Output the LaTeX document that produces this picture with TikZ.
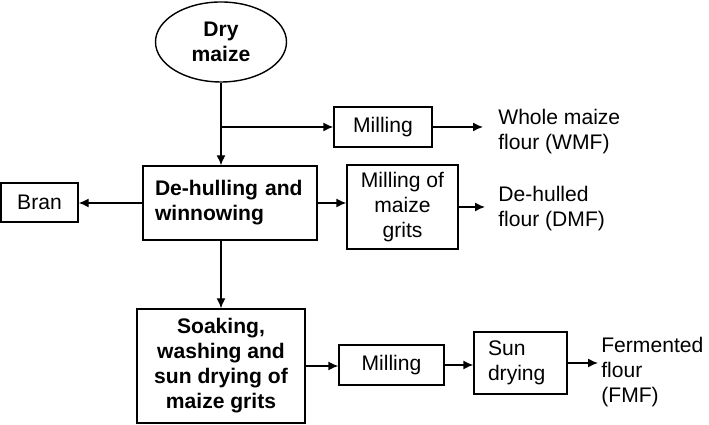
\documentclass[tikz,border=0pt]{standalone}
\usepackage{fontspec}
\setmainfont{Liberation Sans}
\usepackage{tikz}
\usetikzlibrary{shapes.geometric, arrows.meta, positioning, calc}

\begin{document}
\begin{tikzpicture}[
  txt/.style   = {font=\fontsize{12}{14.2}\selectfont},
  btxt/.style  = {font=\fontsize{12}{14.2}\selectfont\bfseries},
  box/.style   = {draw, line width=0.8pt, inner sep=0pt, align=center},
  stage/.style = {box, btxt},
  yield/.style = {txt, anchor=west, align=left, inner sep=0pt},
  flow/.style  = {-{Latex[length=2mm, width=1.8mm]}, line width=0.8pt},
]
\useasboundingbox (0,0) rectangle (14.18,8.5);

% ── Raw material ──────────────────────────────────────────────────────────────
\node[ellipse, draw, line width=0.8pt, btxt, align=center, inner sep=0pt,
      minimum width=2.62cm, minimum height=1.6cm] (dry) at (4.42,7.66) {Dry\\maize};

% ── Whole maize route ─────────────────────────────────────────────────────────
\node[box, txt, minimum width=1.96cm, minimum height=0.8cm] (mill1) at (7.66,5.96) {Milling};
\node[yield] (wmf) at (9.96,5.86) {Whole maize\\flour (WMF)};

% ── De-hulling ────────────────────────────────────────────────────────────────
\node[stage, align=left, text width=3.0cm, inner xsep=0.24cm,
      minimum height=1.48cm] (dehull) at (4.6,4.44) {De-hulling and\\winnowing};
\node[box, txt, minimum width=1.54cm, minimum height=0.78cm] (bran) at (0.79,4.45) {Bran};
\node[box, txt, minimum width=2.22cm, minimum height=1.68cm] (grits) at (8.05,4.36) {Milling of\\maize\\grits};
\node[yield] (dmf) at (9.96,4.32) {De-hulled\\flour (DMF)};

% ── Fermented route ───────────────────────────────────────────────────────────
\node[stage, minimum width=3.36cm, minimum height=2.28cm] (soak) at (4.42,1.18)
      {Soaking,\\washing and\\sun drying of\\maize grits};
\node[box, txt, minimum width=2.1cm, minimum height=0.8cm] (mill2) at (7.83,1.2) {Milling};
\node[box, txt, align=left, text width=1.3cm, inner xsep=0.28cm,
      minimum height=1.24cm] (sun) at (10.41,1.24) {Sun\\drying};
\node[yield] (fmf) at (12.02,1.06) {Fermented\\flour\\(FMF)};

% ── Connectors ────────────────────────────────────────────────────────────────
\draw[flow] (dry.south) -- (dry.south |- dehull.north);
\draw[flow] (dry.south |- mill1.west) -- (mill1.west);
\draw[flow, shorten >=0.3cm] (mill1.east) -- (mill1.east -| wmf.west);
\draw[flow] (dehull.west) -- (dehull.west -| bran.east);
\draw[flow] (dehull.east) -- (dehull.east -| grits.west);
\draw[flow, shorten >=0.26cm] (grits.east) -- (grits.east -| dmf.west);
\draw[flow] (dehull.south -| soak.north) -- (soak.north);
\draw[flow] (soak.east) -- (soak.east -| mill2.west);
\draw[flow] (mill2.east) -- (mill2.east -| sun.west);
\draw[flow, shorten >=0.06cm] (sun.east) -- (sun.east -| fmf.west);

\end{tikzpicture}
\end{document}
